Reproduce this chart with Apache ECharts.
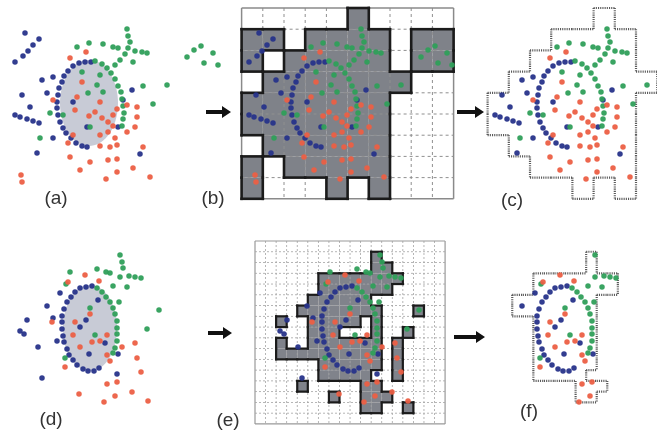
<!DOCTYPE html>
<html>
<head>
<meta charset="utf-8">
<script src="https://cdn.jsdelivr.net/npm/echarts@6/dist/echarts.min.js"></script>
<style>
  html, body { margin: 0; padding: 0; background: #fff; }
  #main { width: 657px; height: 436px; }
</style>
</head>
<body>
<div id="main"></div>
<script>
// top row (a)(b)(c): coordinates in pixels of panel (a)
var blueTop = [[25,33],[39,39],[33,45],[28,51],[23,56],[15,62],[42,80],[22,95],[47,93],[30,107],[15,115],[20,117],[27,119],[33,121],[39,123],[53,138],[37,153],
  [91,62],[85,62],[79,63],[73,66],[68,71],[64,76],[62,82],[59,88],[58,95],[57,102],[57,108],[58,115],[60,122],[63,128],[66,133],[71,138],[76,143],[82,146],[87,147],
  [73,102],[87,127],[132,90],[123,100],[140,154],[53,77],[118,127]];
var greenTop = [[127,29],[128,36],[130,42],[128,48],[135,51],[142,52],[147,53],[113,47],[118,48],[103,44],[89,43],[77,47],[125,54],[120,60],[133,62],[115,65],
  [95,61],[102,64],[107,68],[111,73],[115,79],[118,86],[121,92],[122,99],[123,106],[124,113],[123,119],[122,126],
  [143,86],[167,85],[153,104],[100,75],[97,85],[88,93],[50,113],[40,138],[90,127],[82,72],[103,92],[63,115],
  [187,57],[194,50],[201,46],[204,63],[213,53],[218,65]];
var redTop = [[70,58],[86,52],[82,82],[77,97],[75,110],[53,100],[100,102],[95,112],[89,116],[102,118],[108,122],[113,115],[117,109],[100,135],[108,132],
  [113,126],[115,138],[117,145],[127,132],[137,117],[135,127],[143,147],[108,160],[117,159],[70,157],[80,170],[90,162],[106,179],[117,172],[133,168],
  [150,177],[21,175],[22,182],[68,143],[100,146],[110,147],[73,135],[127,105],[137,107]];
var ellipseTop = [89, 103, 29, 43];

// bottom row (d)(e)(f): coordinates in pixels of panel (d)
var blueBot = [[27,320],[20,331],[24,334],[38,347],[42,378],[47,306],[53,318],[57,341],[60,293],
  [92,286],[86,287],[80,288],[75,292],[71,297],[67,302],[64,309],[62,316],[62,322],[62,329],[63,336],[64,342],[67,349],[69,355],[73,360],[77,365],[83,369],[88,371],[94,371],[99,368],
  [80,327],[86,320],[89,354],[105,343],[98,300],[118,354],[117,374]];
var greenBot = [[120,255],[122,262],[123,268],[129,276],[135,277],[141,278],[106,272],[110,273],[97,269],[70,272],[120,277],[113,286],[127,287],[159,310],[147,329],[66,284],
  [97,288],[102,292],[106,297],[110,302],[113,308],[115,314],[117,321],[117,328],[117,334],[117,341],[115,348],[113,353],[119,302],
  [90,308],[95,335],[65,358]];
var redBot = [[85,275],[68,282],[99,281],[52,322],[75,322],[90,314],[73,335],[80,347],[92,342],[100,341],[107,335],[107,355],[110,361],[65,367],[122,347],
  [135,343],[137,358],[141,372],[107,384],[117,382],[132,392],[115,396],[79,394],[104,402],[148,401]];
var ellipseBot = [90, 328, 27, 43];

// occupancy grids
var topOrigin = [7.6, 8], topCell = [21.2, 21.2];
var botOrigin = [-5, 241], botCell = [10.56, 10.76];
var maskB = [
  '.....#....',
  '##.####.##',
  '#.#####.##',
  '.#######..',
  '#######...',
  '#######...',
  '.######...',
  '#.#####...',
  '#...#.#...'
];
var maskC = [
  '.....#....',
  '...####...',
  '..#####...',
  '.#######..',
  '#######...',
  '#######...',
  '.######...',
  '..#####...',
  '....#.#...'
];
var maskE = [
  '..................',
  '...........#......',
  '...........##.....',
  '......########....',
  '......#######.....',
  '.....######.......',
  '....########...#..',
  '..#..#####.#......',
  '.....###...#..#...',
  '..#..#######.#....',
  '..##########.#....',
  '......######.#....',
  '......#####..#....',
  '....#.....##......',
  '.......#..###.....',
  '..........##..#...',
  '..................'
];
var maskF = [
  '..................',
  '...........#......',
  '...........#......',
  '......########....',
  '......########....',
  '....########......',
  '....########......',
  '......######......',
  '......######......',
  '......######......',
  '......######......',
  '......######......',
  '......#####.......',
  '..........###.....',
  '..........##......',
  '..................',
  '..................'
];

var BLUE = '#27338a', GREEN = '#2f9f5a', RED = '#ec5f45';

function maskCells(mask) {
  var out = [];
  mask.forEach(function (row, r) {
    for (var c = 0; c < row.length; c++) if (row[c] === '#') out.push([c, r]);
  });
  return out;
}
function maskEdges(mask) {
  var has = function (c, r) { return mask[r] !== undefined && mask[r][c] === '#'; };
  var edges = [];
  maskCells(mask).forEach(function (p) {
    var c = p[0], r = p[1];
    if (!has(c, r - 1)) edges.push([c, r, c + 1, r]);
    if (!has(c, r + 1)) edges.push([c, r + 1, c + 1, r + 1]);
    if (!has(c - 1, r)) edges.push([c, r, c, r + 1]);
    if (!has(c + 1, r)) edges.push([c + 1, r, c + 1, r + 1]);
  });
  return edges;
}
function gridLines(cols, rows) {
  var out = [];
  for (var c = 0; c <= cols; c++) out.push([c, 0, c, rows, (c === 0 || c === cols) ? 1 : 0]);
  for (var r = 0; r <= rows; r++) out.push([0, r, cols, r, (r === 0 || r === rows) ? 1 : 0]);
  return out;
}
function inside(points, mask, origin, cell) {
  return points.filter(function (p) {
    var c = Math.floor((p[0] - origin[0]) / cell[0]), r = Math.floor((p[1] - origin[1]) / cell[1]);
    return mask[r] !== undefined && mask[r][c] === '#';
  });
}

function cellSeries(idx, mask, origin, cell, color) {
  return {
    type: 'custom', xAxisIndex: idx, yAxisIndex: idx, z: 1, silent: true,
    data: maskCells(mask),
    renderItem: function (params, api) {
      var c = api.value(0), r = api.value(1);
      var p0 = api.coord([origin[0] + c * cell[0], origin[1] + r * cell[1]]);
      var p1 = api.coord([origin[0] + (c + 1) * cell[0], origin[1] + (r + 1) * cell[1]]);
      return { type: 'rect', shape: { x: p0[0], y: p0[1], width: p1[0] - p0[0], height: p1[1] - p0[1] }, style: { fill: color } };
    }
  };
}
function lineSeries(idx, data, origin, cell, styleFn, z) {
  return {
    type: 'custom', xAxisIndex: idx, yAxisIndex: idx, z: z, silent: true,
    data: data,
    renderItem: function (params, api) {
      var a = api.coord([origin[0] + api.value(0) * cell[0], origin[1] + api.value(1) * cell[1]]);
      var b = api.coord([origin[0] + api.value(2) * cell[0], origin[1] + api.value(3) * cell[1]]);
      return { type: 'line', shape: { x1: a[0], y1: a[1], x2: b[0], y2: b[1] }, style: styleFn(api.value(4)) };
    }
  };
}
function ellipseSeries(idx, e) {
  return {
    type: 'custom', xAxisIndex: idx, yAxisIndex: idx, z: 1, silent: true,
    data: [e],
    renderItem: function (params, api) {
      var pts = [];
      for (var i = 0; i < 72; i++) {
        var t = i / 72 * Math.PI * 2;
        pts.push(api.coord([api.value(0) + api.value(2) * Math.cos(t), api.value(1) + api.value(3) * Math.sin(t)]));
      }
      return { type: 'polygon', shape: { points: pts }, style: { fill: '#c8cbd6' } };
    }
  };
}
function dots(idx, b, g, r) {
  return [[b, BLUE], [g, GREEN], [r, RED]].map(function (s) {
    return {
      type: 'scatter', xAxisIndex: idx, yAxisIndex: idx, z: 5, silent: true,
      data: s[0], symbolSize: 5.5,
      itemStyle: { color: s[1], opacity: 0.95 }
    };
  });
}
function arrow(x0, x1, y) {
  return { type: 'polygon', shape: { points: [[x0, y - 2], [x1 - 9, y - 2], [x1 - 9, y - 6], [x1, y], [x1 - 9, y + 6], [x1 - 9, y + 2], [x0, y + 2]] }, style: { fill: '#111' } };
}
function label(txt, x, y) {
  return { type: 'text', style: { text: txt, x: x, y: y, fill: '#333', font: '19px "Liberation Sans", Arial, sans-serif', align: 'center', verticalAlign: 'middle' } };
}

var chart = echarts.init(document.getElementById('main'));

// panel boxes; widths kept inside the 657px page so axes are not squeezed
var grids = [
  { left: 0, top: 0, width: 230, height: 215 },
  { left: 234, top: 0, width: 230, height: 215 },
  { left: 480, top: 0, width: 177, height: 215 },
  { left: 0, top: 225, width: 230, height: 211 },
  { left: 260, top: 225, width: 230, height: 211 },
  { left: 475, top: 225, width: 182, height: 211 }
];
var xAxes = grids.map(function (g, i) {
  return { gridIndex: i, type: 'value', min: 0, max: g.width, show: false };
});
var yAxes = grids.map(function (g, i) {
  return i < 3
    ? { gridIndex: i, type: 'value', min: 0, max: 215, inverse: true, show: false }
    : { gridIndex: i, type: 'value', min: 225, max: 436, inverse: true, show: false };
});

var thickEdge = function () { return { stroke: '#1b1b1b', lineWidth: 2.6, lineCap: 'square' }; };
var dottedEdge = function () { return { stroke: '#5a5a5a', lineWidth: 2.2, lineDash: [1.1, 1.1] }; };

var series = [].concat(
  // (a)
  [ellipseSeries(0, ellipseTop)],
  dots(0, blueTop, greenTop, redTop),
  // (b)
  [cellSeries(1, maskB, topOrigin, topCell, '#7f8289'),
   lineSeries(1, gridLines(10, 9), topOrigin, topCell, function (solid) {
     return solid ? { stroke: '#8a8a8a', lineWidth: 1.5 } : { stroke: '#8f8f8f', lineWidth: 1, lineDash: [3, 3] };
   }, 2),
   lineSeries(1, maskEdges(maskB), topOrigin, topCell, thickEdge, 3)],
  dots(1, blueTop, greenTop, redTop),
  // (c)
  [lineSeries(2, maskEdges(maskC), topOrigin, topCell, dottedEdge, 3)],
  dots(2, inside(blueTop, maskC, topOrigin, topCell), inside(greenTop, maskC, topOrigin, topCell), inside(redTop, maskC, topOrigin, topCell)),
  // (d)
  [ellipseSeries(3, ellipseBot)],
  dots(3, blueBot, greenBot, redBot),
  // (e)
  [cellSeries(4, maskE, botOrigin, botCell, '#80838b'),
   lineSeries(4, gridLines(18, 17), botOrigin, botCell, function (solid) {
     return solid ? { stroke: '#999', lineWidth: 1.2 } : { stroke: '#a4a4a4', lineWidth: 0.8, lineDash: [2, 2] };
   }, 2),
   lineSeries(4, maskEdges(maskE), botOrigin, botCell, function () { return { stroke: '#1b1b1b', lineWidth: 2.2, lineCap: 'square' }; }, 3)],
  dots(4, blueBot, greenBot, redBot),
  // (f)
  [lineSeries(5, maskEdges(maskF), botOrigin, botCell, dottedEdge, 3)],
  dots(5, inside(blueBot, maskF, botOrigin, botCell), inside(greenBot, maskF, botOrigin, botCell), inside(redBot, maskF, botOrigin, botCell))
);

chart.setOption({
  animation: false,
  grid: grids,
  xAxis: xAxes,
  yAxis: yAxes,
  graphic: [
    arrow(206, 231, 112), arrow(457, 484, 112),
    arrow(208, 232, 333), arrow(454, 485, 337),
    label('(a)', 56, 199), label('(b)', 213, 199), label('(c)', 512, 201),
    label('(d)', 51, 420), label('(e)', 228, 421), label('(f)', 529, 412)
  ],
  series: series
});
</script>
</body>
</html>
